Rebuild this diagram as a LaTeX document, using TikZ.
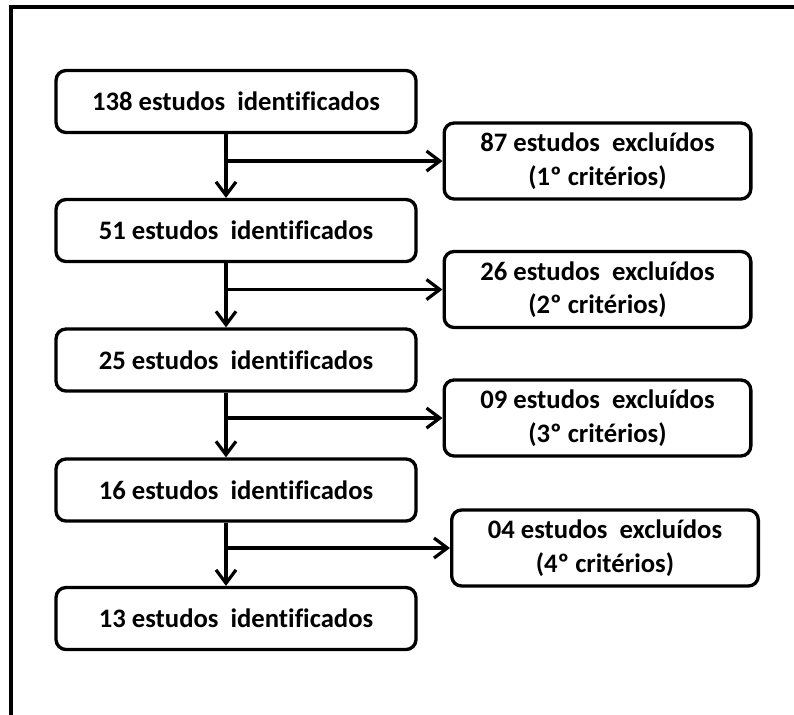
\documentclass[tikz,border=0pt]{standalone}
\usepackage{fontspec}
\setmainfont{Carlito}[Ligatures=CommonOff]
\usepackage{tikz}
\usetikzlibrary{arrows.meta,positioning}

\begin{document}
\begin{tikzpicture}[
  x=0.75pt, y=-0.75pt,
  font=\bfseries\fontsize{20}{25}\selectfont,
  box/.style={draw=black,fill=white,rounded corners=7.5pt,line width=2.5pt,
              minimum width=270pt,minimum height=46.5pt,align=center,inner sep=2pt},
  exc/.style={box,minimum width=230pt,minimum height=57pt},
  f/.style={-{Straight Barb[length=10pt,width=15pt,line width=2.4pt]},line width=2.5pt},
  frame/.style={line width=2.5pt},
]
\useasboundingbox (0,0) rectangle (794,715);

% --- outer frame (only top and left show) ---------------------------------
\draw[frame] (11,715) -- (11,7) -- (794,7);

% --- left column: what remains ---------------------------------------------
\node[box] (id1) at (236,101.5) {138 estudos~~identificados};
\node[box] (id2) at (236,230.5) {51 estudos~~identificados};
\node[box] (id3) at (236,360)   {25 estudos~~identificados};
\node[box] (id4) at (236,490)   {16 estudos~~identificados};
\node[box] (id5) at (236,618.5) {13 estudos~~identificados};

% --- right column: what is dropped -----------------------------------------
\node[exc] (ex1) at (597.5,161)   {87 estudos~~excluídos\\(1º critérios)};
\node[exc] (ex2) at (597.5,289.5) {26 estudos~~excluídos\\(2º critérios)};
\node[exc] (ex3) at (597.5,418)   {09 estudos~~excluídos\\(3º critérios)};
\node[exc] (ex4) at (605,548)     {04 estudos~~excluídos\\(4º critérios)};

% --- down the spine, branching right ---------------------------------------
\foreach \a/\b/\e in {id1/id2/ex1,id2/id3/ex2,id3/id4/ex3,id4/id5/ex4}{
  \draw[f] ([xshift=-7.5pt]\a.south) -- ([xshift=-7.5pt]\b.north);
  \draw[f] ([xshift=-7.5pt]\a.south |- \e.west) -- (\e.west);
}
\end{tikzpicture}
\end{document}
